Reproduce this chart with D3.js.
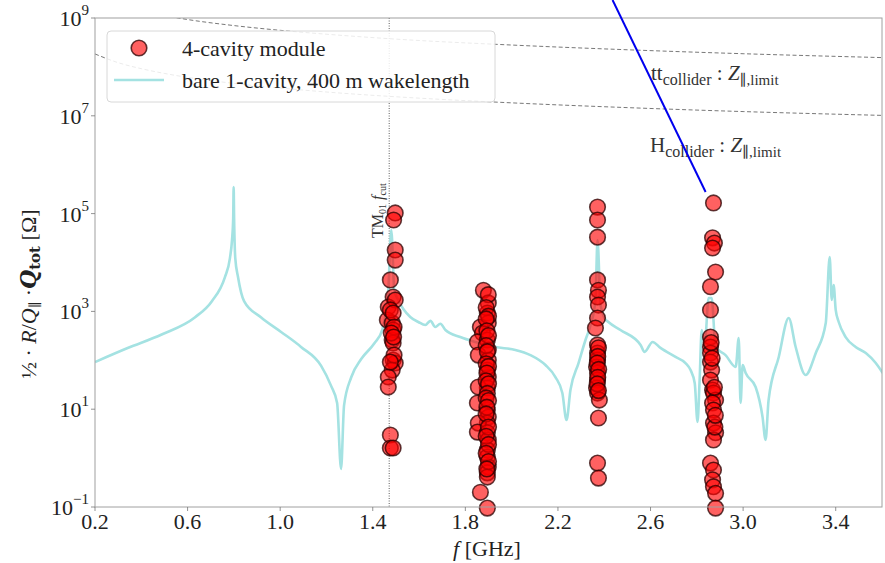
<!DOCTYPE html>
<html>
<head>
<meta charset="utf-8">
<script src="https://cdn.jsdelivr.net/npm/d3@7"></script>
<style>
  html, body { margin: 0; padding: 0; background: #fff; }
  svg { display: block; font-family: "Liberation Serif", "DejaVu Serif", serif; }
</style>
</head>
<body>
<svg id="chart" width="885" height="563"></svg>
<script>
// ---------------- DATA ----------------
const xTicks = [0.2, 0.6, 1.0, 1.4, 1.8, 2.2, 2.6, 3.0, 3.4];
const yTickExps = [-1, 1, 3, 5, 7, 9];

// bare 1-cavity, 400 m wakelength (f [GHz], Z [Ohm])
const bareF = [0.200,0.341,0.488,0.631,0.705,0.761,0.783,0.792,0.797,0.799,0.801,0.806,0.818,0.844,0.918,1.004,1.090,1.177,1.220,1.246,1.263,1.276,1.307,1.350,1.407,1.441,1.467,1.480,1.493,1.510,1.562,1.597,1.627,1.649,1.670,1.692,1.714,1.778,1.843,1.930,2.016,2.081,2.146,2.189,2.219,2.237,2.254,2.289,2.319,2.341,2.362,2.371,2.384,2.401,2.418,2.470,2.557,2.574,2.609,2.643,2.708,2.751,2.773,2.791,2.803,2.812,2.821,2.834,2.851,2.864,2.881,2.924,2.968,2.981,2.989,2.998,3.011,3.054,3.084,3.097,3.110,3.154,3.197,3.227,3.270,3.314,3.357,3.374,3.383,3.391,3.400,3.413,3.443,3.486,3.530,3.573,3.603];
const bareZ = [92,178,337,751,1620,4990,12300,29000,80000,350000,80000,12300,4990,1620,751,380,188,77,30,13.4,0.6,12,45,106,223,420,2740,46200,2740,1710,768,607,527,640,480,560,417,299,237,187,163,128,80,45.5,21.4,6.0,24.7,88,260,527,1710,28800,1350,733,607,417,206,148,237,179,117,88,63,34,5.5,38,417,206,1880,1880,187,128,73,286,13.4,80,55,28.4,6.9,2.35,15.4,117,733,187,50,141,580,12900,1710,3470,1070,607,299,187,141,88,55];

// 4-cavity module modes (f [GHz], Z [Ohm])
const modF = [
  1.497,1.490,1.497,1.497,1.476,1.488,1.467,1.497,1.463,1.484,1.488,1.484,1.488,1.488,1.497,1.484,1.467,1.467,1.476,1.476,1.488,1.476,1.488,1.492,1.480,1.490,1.492,1.476,
  1.878,1.899,1.895,1.899,1.865,1.874,1.852,1.895,1.899,1.856,1.899,1.895,1.899,1.895,1.856,1.852,1.895,1.899,1.895,1.856,1.852,1.895,1.899,1.895,1.895,1.899,1.895,1.895,1.865,1.895,
  1.899,1.890,1.900,1.890,1.893,1.900,1.890,1.895,1.890,1.900,1.893,1.890,1.900,1.895,1.890,1.900,1.893,1.890,1.900,1.890,1.900,1.890,1.900,1.893,
  2.371,2.371,2.371,2.371,2.375,2.371,2.375,2.371,2.362,2.371,2.371,2.371,2.367,2.371,2.371,2.367,2.371,2.379,2.375,2.371,2.375,
  2.375,2.372,2.370,2.376,2.372,2.370,2.375,
  2.872,2.868,2.876,2.868,2.881,2.859,2.859,2.859,2.859,2.859,2.859,2.864,2.859,2.868,2.872,2.881,2.868,2.872,2.872,2.881,2.872,2.859,2.872,2.868,2.872,2.881,2.881,
  2.862,2.866,2.878,2.876,2.880
];
const modZ = [
  1.03e5,7.4e4,1.8e4,1.12e4,4.4e3,1.97e3,1.23e3,1.71e3,667,580,417,260,226,101,88,63,45.5,28.4,2.97,1.61,1.61,1070,927,480,361,299,128,92,
  2.7e3,1.49e3,927,580,480,361,237,260,163,128,101,63,45.5,27.2,28.4,13.4,9.6,6.9,5.2,5.2,3.4,3.3,2.35,1.47,1.05,0.66,0.5,0.41,0.2,0.095,
  2.2e3,1.2e3,800,700,400,320,200,150,85,75,55,38,33,21,17,15,11,8,4.3,2.8,1.9,1.25,0.85,0.6,
  1.36e5,7.4e4,3.3e4,4.4e3,2.7e3,1.97e3,1.35e3,733,458,206,141,101,73,55,39.5,27.2,21.4,15.4,6.6,0.79,0.39,
  180,120,88,65,45,33,24,
  1.65e5,3.2e4,2.5e4,1.98e4,6.4e3,3.2e3,1.07e3,299,187,141,92,63,39.5,24.7,21.4,15.4,13.4,9.6,5.2,3.3,2.35,0.79,0.57,0.36,0.26,0.19,0.095,
  230,110,4.3,28,7.5
];

// impedance limits (f [GHz], Z [Ohm])
const limitF = [0.2,0.3,0.4,0.5,0.6,0.8,1.0,1.25,1.5,2.0,2.5,3.0,3.6];
const ttLimitZ = [2.8e9,1.86e9,1.4e9,1.12e9,9.3e8,7.0e8,5.6e8,4.47e8,3.7e8,2.8e8,2.24e8,1.86e8,1.55e8];
const hLimitZ = [1.84e8,1.22e8,9.2e7,7.35e7,6.1e7,4.6e7,3.7e7,2.94e7,2.45e7,1.84e7,1.47e7,1.22e7,1.02e7];

const fCut = 1.471;
// blue annotation line (f, Z)
const arrowF = [2.436, 2.838];
const arrowZ = [2.33e9, 2.77e5];

// ---------------- LAYOUT ----------------
const W = 885, H = 563;
const m = {left: 95, top: 18, right: 3, bottom: 56};
const iw = W - m.left - m.right, ih = H - m.top - m.bottom;

const svg = d3.select("#chart");
const x = d3.scaleLinear().domain([0.2, 3.6]).range([m.left, m.left + iw]);
const y = d3.scaleLog().domain([0.1, 1e9]).range([m.top + ih, m.top]);

svg.append("defs").append("clipPath").attr("id", "clip")
  .append("rect").attr("x", m.left).attr("y", m.top).attr("width", iw).attr("height", ih);

const plot = svg.append("g").attr("clip-path", "url(#clip)");

// limits
const limLine = d3.line().x((d, i) => x(limitF[i])).y(d => y(d)).curve(d3.curveMonotoneX);
[ttLimitZ, hLimitZ].forEach(arr => {
  plot.append("path").attr("d", limLine(arr)).attr("fill", "none")
    .attr("stroke", "#555").attr("stroke-width", 0.8).attr("stroke-dasharray", "4,2.5");
});

// f_cut dotted line
plot.append("line").attr("x1", x(fCut)).attr("x2", x(fCut)).attr("y1", m.top).attr("y2", m.top + ih)
  .attr("stroke", "#333").attr("stroke-width", 0.8).attr("stroke-dasharray", "1,1.5");

// bare cavity curve
const bareLine = d3.line().x((d, i) => x(bareF[i])).y(d => y(d)).curve(d3.curveMonotoneX);
plot.append("path").attr("d", bareLine(bareZ)).attr("fill", "none")
  .attr("stroke", "#a4e2e2").attr("stroke-width", 2.6).attr("stroke-linejoin", "round");

// points
svg.append("g").selectAll("circle").data(modZ).join("circle")
  .attr("cx", (d, i) => x(modF[i])).attr("cy", d => y(d)).attr("r", 7.8)
  .attr("fill", "#ff0000").attr("fill-opacity", 0.62)
  .attr("stroke", "#2a0000").attr("stroke-opacity", 0.75).attr("stroke-width", 1.6);

// frame
svg.append("rect").attr("x", m.left).attr("y", m.top).attr("width", iw).attr("height", ih)
  .attr("fill", "none").attr("stroke", "#a0a0a0").attr("stroke-width", 1);

// x ticks
const gx = svg.append("g");
xTicks.forEach(t => {
  gx.append("line").attr("x1", x(t)).attr("x2", x(t)).attr("y1", m.top + ih).attr("y2", m.top + ih + 4)
    .attr("stroke", "#777").attr("stroke-width", 0.8);
  gx.append("text").attr("x", x(t)).attr("y", m.top + ih + 22).attr("text-anchor", "middle")
    .attr("font-size", 22).attr("fill", "#222").text(t.toFixed(1));
});
// y ticks
const gy = svg.append("g");
yTickExps.forEach(e => {
  const yy = y(Math.pow(10, e));
  gy.append("line").attr("x1", m.left - 4).attr("x2", m.left).attr("y1", yy).attr("y2", yy)
    .attr("stroke", "#777").attr("stroke-width", 0.8);
  const t = gy.append("text").attr("x", m.left - 6).attr("y", yy + 8).attr("text-anchor", "end")
    .attr("font-size", 22).attr("fill", "#222");
  t.append("tspan").text("10");
  t.append("tspan").attr("dy", -11).attr("font-size", 15).text(e === -1 ? "\u22121" : String(e));
});

// axis labels
const xl = svg.append("text").attr("x", 487).attr("y", 556).attr("text-anchor", "middle")
  .attr("font-size", 22).attr("fill", "#222");
xl.append("tspan").attr("font-style", "italic").text("f");
xl.append("tspan").text(" [GHz]");

const yl = svg.append("text").attr("transform", "translate(36,294) rotate(-90)")
  .attr("text-anchor", "middle").attr("font-size", 22).attr("fill", "#222");
yl.append("tspan").text("\u00bd \u00b7 ");
yl.append("tspan").attr("font-style", "italic").text("R");
yl.append("tspan").text("/");
yl.append("tspan").attr("font-style", "italic").text("Q");
yl.append("tspan").attr("font-size", 14).attr("dy", 4).text("\u2225");
yl.append("tspan").attr("dy", -4).text(" \u00b7");
yl.append("tspan").attr("font-style", "italic").attr("font-weight", "bold").attr("font-family", "DejaVu Serif").text("Q");
yl.append("tspan").attr("font-weight", "bold").attr("font-size", 15).attr("dy", 4).attr("font-family", "DejaVu Serif").text("tot");
yl.append("tspan").attr("dy", -4).text(" [\u03a9]");

// TM01 f_cut label
const tm = svg.append("text").attr("transform", `translate(${x(fCut) - 6},238) rotate(-90)`)
  .attr("font-size", 16).attr("fill", "#333");
tm.append("tspan").text("TM");
tm.append("tspan").attr("font-size", 10).attr("dy", 3).text("01");
tm.append("tspan").attr("dy", -3).text(" ");
tm.append("tspan").attr("font-style", "italic").text("f");
tm.append("tspan").attr("font-size", 10).attr("dy", 3).text("cut");

// limit annotations
function limitLabel(px, py, main) {
  const t = svg.append("text").attr("x", px).attr("y", py).attr("font-size", 21).attr("fill", "#333");
  t.append("tspan").text(main);
  t.append("tspan").attr("font-size", 16).attr("dy", 5).text("collider");
  t.append("tspan").attr("dy", -5).text(" : ");
  t.append("tspan").attr("font-style", "italic").text("Z");
  t.append("tspan").attr("font-size", 15).attr("dy", 5).text("\u2225,limit");
}
limitLabel(651, 80, "tt");
limitLabel(650, 152, "H");

// legend
const lg = svg.append("g");
lg.append("rect").attr("x", 107).attr("y", 31).attr("width", 388).attr("height", 71).attr("rx", 4)
  .attr("fill", "#fff").attr("fill-opacity", 0.85).attr("stroke", "#d8d8d8").attr("stroke-width", 1);
lg.append("circle").attr("cx", 139).attr("cy", 48).attr("r", 7.8)
  .attr("fill", "#ff0000").attr("fill-opacity", 0.62)
  .attr("stroke", "#2a0000").attr("stroke-opacity", 0.75).attr("stroke-width", 1.6);
lg.append("text").attr("x", 182).attr("y", 56).attr("font-size", 22).attr("fill", "#222").text("4-cavity module");
lg.append("line").attr("x1", 114).attr("x2", 164).attr("y1", 80).attr("y2", 80)
  .attr("stroke", "#a4e2e2").attr("stroke-width", 2.6);
lg.append("text").attr("x", 182).attr("y", 88).attr("font-size", 22).attr("fill", "#222")
  .text("bare 1-cavity, 400 m wakelength");

// blue annotation line (not clipped)
svg.append("line").attr("x1", x(arrowF[0])).attr("y1", y(arrowZ[0]))
  .attr("x2", x(arrowF[1])).attr("y2", y(arrowZ[1]))
  .attr("stroke", "#0000ee").attr("stroke-width", 2);
</script>
</body>
</html>
